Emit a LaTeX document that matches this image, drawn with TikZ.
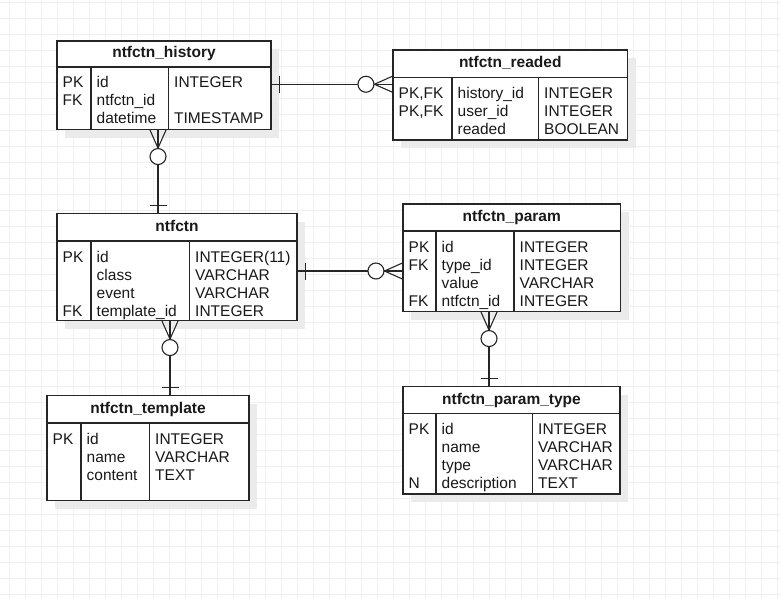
\documentclass[tikz,border=0pt]{standalone}
\usepackage{fontspec}
\setmainfont{Liberation Sans}
\usetikzlibrary{fit,decorations.markings}

\newcommand\erfont{\fontsize{15.5}{18}\selectfont}
% table: name, x1, y1, x2, y2, header line, divider 1, divider 2, title
\newcommand\erbox[9]{%
  \fill[shadowbox] (#2+8,#3+8) rectangle (#4+8,#5+8);
  \node[entbox, fit={(#2,#3) (#4,#5)}] (#1) {};
  \draw[erline] (#2,#6) -- (#4,#6) (#7,#6) -- (#7,#5) (#8,#6) -- (#8,#5);
  \node[hdr] (#1-title) at ({(#2+#4)/2},{(#3+#6)/2+4}) {#9};}
% rows: name, x1, divider 1, divider 2, header line, key/field/type list
\newcommand\errows[6]{%
  \foreach \k/\f/\t [count=\i from 0] in {#6}{%
    \node[cell] (#1-k\i) at (#2+5.5,#5+21+18*\i) {\k};
    \node[cell] (#1-f\i) at (#3+5.5,#5+21+18*\i) {\f};
    \node[cell] (#1-t\i) at (#4+5.5,#5+21+18*\i) {\t};}}

\tikzset{
  erline/.style={draw=black!85, line width=1.1pt},
  gridline/.style={draw=black!6, line width=0.8pt},
  shadowbox/.style={fill=black!8},
  entbox/.style={erline, fill=white, inner sep=0pt},
  hdr/.style={font={\erfont\bfseries}, text=black!90, anchor=base, inner sep=0pt},
  cell/.style={font=\erfont, text=black!90, anchor=base west, inner sep=0pt},
  rel/.style={erline, postaction={decorate, decoration={markings,
    mark=at position 7.5pt with {\draw[erline] (0pt,-8.5pt) -- (0pt,8.5pt);},
    mark=at position 1 with {\draw[erline] (-18pt,0pt) -- (0pt,8pt) (-18pt,0pt) -- (0pt,-8pt);
      \draw[erline, fill=white] (-26.5pt,0pt) circle[radius=8pt];}}}}
}

\begin{document}
\begin{tikzpicture}[x=1pt, y=-1pt]
  \useasboundingbox (0,0) rectangle (781,599);
  \fill[white] (0,0) rectangle (781,599);
  \foreach \x in {9,25,...,777} \draw[gridline] (\x,0) -- (\x,599);
  \foreach \y in {2,18,...,594} \draw[gridline] (0,\y) -- (781,\y);

  \erbox{hist}{57}{41}{271}{129.5}{67}{91}{168.5}{ntfctn\_history}
  \errows{hist}{57}{91}{168.5}{67}{PK/id/INTEGER, FK/ntfctn\_id/{}, {}/datetime/TIMESTAMP}
  \erbox{readed}{393}{50}{627.5}{140}{77.5}{452}{538.5}{ntfctn\_readed}
  \errows{readed}{393}{452}{538.5}{77.5}{{PK,FK}/history\_id/INTEGER, {PK,FK}/user\_id/INTEGER, {}/readed/BOOLEAN}
  \erbox{ntfctn}{57}{213.5}{297}{320.5}{241}{91}{189.5}{ntfctn}
  \errows{ntfctn}{57}{91}{189.5}{241}{PK/id/INTEGER(11), {}/class/VARCHAR, {}/event/VARCHAR, FK/template\_id/INTEGER}
  \erbox{templ}{47}{395.5}{249}{500.5}{423}{81}{149.5}{ntfctn\_template}
  \errows{templ}{47}{81}{149.5}{423}{PK/id/INTEGER, {}/name/VARCHAR, {}/content/TEXT}
  \erbox{param}{403}{204}{620.5}{311.5}{231}{436}{514}{ntfctn\_param}
  \errows{param}{403}{436}{514}{231}{PK/id/INTEGER, FK/type\_id/INTEGER, {}/value/VARCHAR, FK/ntfctn\_id/INTEGER}
  \erbox{ptype}{403}{386.5}{620}{494}{413.5}{436}{532.5}{ntfctn\_param\_type}
  \errows{ptype}{403}{436}{532.5}{413.5}{PK/id/INTEGER, {}/name/VARCHAR, {}/type/VARCHAR, N/description/TEXT}

  % relations, one side first
  \draw[rel] (hist.east) ++(0,-1) coordinate (h1) -- (h1 -| readed.west);
  \draw[rel] (ntfctn.north) ++(-19,0) coordinate (n1) -- (n1 |- hist.south);
  \draw[rel] (templ.north) ++(22,0) coordinate (t1) -- (t1 |- ntfctn.south);
  \draw[rel] (ntfctn.east) ++(0,4) coordinate (n2) -- (n2 -| param.west);
  \draw[rel] (ptype.north) ++(-22.5,0) coordinate (p1) -- (p1 |- param.south);
\end{tikzpicture}
\end{document}
